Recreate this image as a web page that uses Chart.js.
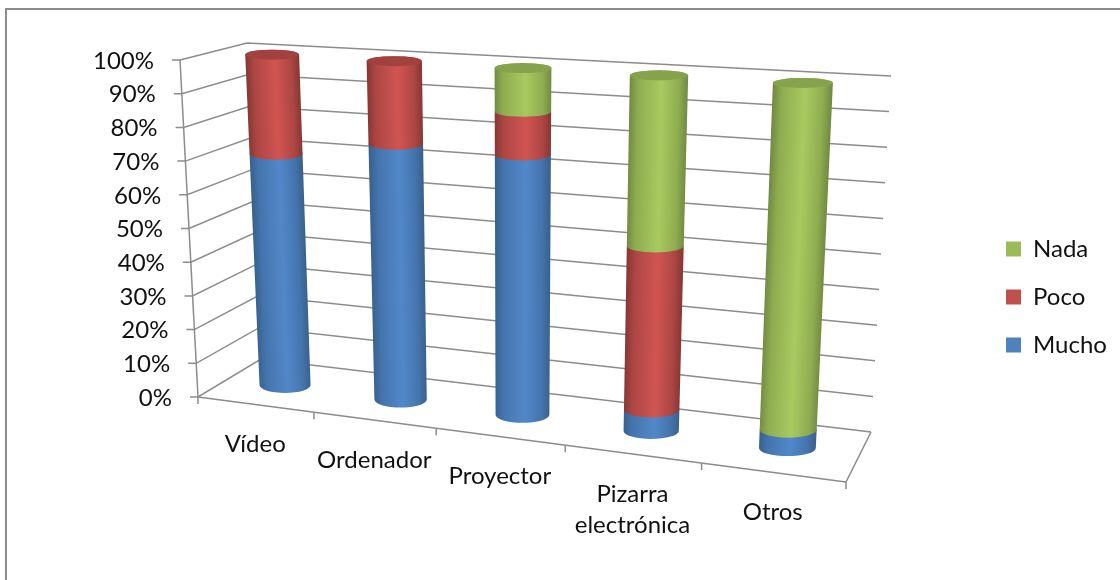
<!DOCTYPE html>
<html>
<head>
<meta charset="utf-8">
<style>
  html, body { margin: 0; padding: 0; background: #fff; }
  canvas { display: block; }
</style>
<script src="https://cdn.jsdelivr.net/npm/chart.js@4"></script>
</head>
<body>
<canvas id="chart" width="1120" height="580"></canvas>
<script>
const categories = ["Vídeo", "Ordenador", "Proyector", ["Pizarra", "electrónica"], "Otros"];
const mucho = [70, 75.5, 75, 6, 5];
const poco = [30, 24.5, 12.5, 46, 0];
const nada = [0, 0, 12.5, 48, 95];

const FONT = { family: "Lato, Carlito, sans-serif", size: 24 };
const GRID = "#8c8c8c";

// corners of the 3D box, in page pixels
const box = {
  frontBottomL: [198, 397], frontBottomR: [846, 482],
  backBottomL: [261, 359], backBottomR: [871, 432],
  frontTopL: [180, 60], frontTopR: [865, 98],
  backTopL: [247, 43], backTopR: [891, 76]
};

const shades = {
  Mucho: { edge: "#38618c", mid: "#4474ad", light: "#5288c9", cap: "#3f6a9c" },
  Poco: { edge: "#863735", mid: "#ad4643", light: "#d05552", cap: "#a2413f" },
  Nada: { edge: "#728b43", mid: "#8fac50", light: "#a8ca60", cap: "#87a24c" }
};

function lerp(a, b, f) { return a + (b - a) * f; }
function lerp2(a, b, f) { return [lerp(a[0], b[0], f), lerp(a[1], b[1], f)]; }
function warp(t, k) { return t / (t + k * (1 - t)); }

// t across categories, d depth (0 front, 1 back), v height, all 0..1
function project(t, d, v) {
  const f = warp(t, 1.147);
  const bottom = lerp2(lerp2(box.frontBottomL, box.frontBottomR, f), lerp2(box.backBottomL, box.backBottomR, f), d);
  const top = lerp2(lerp2(box.frontTopL, box.frontTopR, f), lerp2(box.backTopL, box.backTopR, f), d);
  const p = lerp2(bottom, top, v);
  return { x: p[0], y: p[1] };
}

function line(ctx, a, b) {
  ctx.beginPath();
  ctx.moveTo(a.x, a.y);
  ctx.lineTo(b.x, b.y);
  ctx.stroke();
}

function drawWalls(chart) {
  const ctx = chart.ctx;
  const y = chart.scales.y;
  const area = chart.chartArea;
  ctx.save();
  ctx.strokeStyle = GRID;
  ctx.lineWidth = 1.5;

  // gridlines from the y scale
  y.ticks.forEach((tick) => {
    const v = (area.bottom - y.getPixelForValue(tick.value)) / area.height;
    const a = project(0, 0, v);
    const b = project(0, 1, v);
    const c = project(1, 1, v);
    ctx.beginPath();
    ctx.moveTo(a.x - 8, a.y);
    ctx.lineTo(a.x, a.y);
    ctx.lineTo(b.x, b.y);
    ctx.lineTo(c.x, c.y);
    ctx.stroke();
  });

  line(ctx, project(0, 0, 0), project(0, 0, 1));

  // floor edges and category ticks
  line(ctx, project(0, 0, 0), project(1, 0, 0));
  line(ctx, project(1, 0, 0), project(1, 1, 0));
  for (let i = 0; i <= categories.length; i++) {
    const p = project(i / categories.length, 0, 0);
    line(ctx, p, { x: p.x, y: p.y + 7 });
  }
  ctx.restore();
}

function drawCylinders(chart) {
  const ctx = chart.ctx;
  const area = chart.chartArea;
  const toT = (px) => (px - area.left) / area.width;
  const toV = (px) => (area.bottom - px) / area.height;

  categories.forEach((cat, j) => {
    let last = -1;
    chart.data.datasets.forEach((ds, i) => { if (ds.data[j] > 0) last = i; });

    chart.data.datasets.forEach((ds, i) => {
      if (!(ds.data[j] > 0)) return;
      const bar = chart.getDatasetMeta(i).data[j];
      const shade = shades[ds.label];
      const t = toT(bar.x);
      const v0 = toV(bar.base);
      const v1 = toV(bar.y);
      const p0 = project(t, 0.5, v0);
      const p1 = project(t, 0.5, v1);
      const f = warp(toT(bar.x + bar.width / 2), 1.07) - warp(toT(bar.x - bar.width / 2), 1.07);
      const w0 = f * (project(1, 0.5, v0).x - project(0, 0.5, v0).x) / 2;
      const w1 = f * (project(1, 0.5, v1).x - project(0, 0.5, v1).x) / 2;
      const ry0 = lerp(8, 5, v0);
      const ry1 = lerp(8, 5, v1);

      ctx.save();
      ctx.beginPath();
      ctx.moveTo(p0.x - w0, p0.y);
      ctx.ellipse(p0.x, p0.y, w0, ry0, 0, Math.PI, 0, true);
      ctx.lineTo(p1.x + w1, p1.y);
      ctx.ellipse(p1.x, p1.y, w1, ry1, 0, 0, Math.PI, true);
      ctx.closePath();

      // shear so the shading follows the tilted cylinder axis
      const s = (p1.x - p0.x) / (p1.y - p0.y);
      ctx.transform(1, 0, s, 1, -s * p0.y, 0);
      const w = (w0 + w1) / 2;
      const g = ctx.createLinearGradient(p0.x - w, 0, p0.x + w, 0);
      g.addColorStop(0, shade.edge);
      g.addColorStop(0.15, shade.mid);
      g.addColorStop(0.55, shade.light);
      g.addColorStop(0.85, shade.mid);
      g.addColorStop(1, shade.edge);
      ctx.fillStyle = g;
      ctx.fill();
      ctx.restore();

      if (i === last) {
        ctx.beginPath();
        ctx.ellipse(p1.x, p1.y, w1, ry1, 0, 0, Math.PI * 2);
        ctx.fillStyle = shade.cap;
        ctx.fill();
      }
    });
  });
}

function drawLabels(chart) {
  const ctx = chart.ctx;
  const area = chart.chartArea;
  const y = chart.scales.y;
  const x = chart.scales.x;
  ctx.save();
  ctx.fillStyle = "#111";
  ctx.font = FONT.size + "px " + FONT.family;

  ctx.textAlign = "right";
  ctx.textBaseline = "middle";
  y.ticks.forEach((tick) => {
    const v = (area.bottom - y.getPixelForValue(tick.value)) / area.height;
    const p = project(0, 0, v);
    ctx.fillText(tick.label, p.x - 26, p.y + 1);
  });

  ctx.textAlign = "center";
  categories.forEach((cat, i) => {
    const p = project((x.getPixelForTick(i) - area.left) / area.width, 0, 0);
    const lines = Array.isArray(cat) ? cat : [cat];
    lines.forEach((text, n) => ctx.fillText(text, p.x, p.y + 40 + n * 31));
  });
  ctx.restore();
}

const box3d = {
  id: "box3d",
  beforeDraw(chart) {
    const ctx = chart.ctx;
    ctx.save();
    ctx.fillStyle = "#fff";
    ctx.fillRect(0, 0, chart.width, chart.height);
    // only the top and left of the outer frame show
    ctx.strokeStyle = GRID;
    ctx.lineWidth = 2;
    ctx.beginPath();
    ctx.moveTo(6, chart.height);
    ctx.lineTo(6, 9);
    ctx.lineTo(chart.width, 9);
    ctx.stroke();
    ctx.restore();
  },
  afterLayout(chart) {
    // legend sits lower than the middle of the plot
    const legend = chart.legend;
    const pad = legend.options.labels.padding;
    legend.left = 1006 - pad;
    legend.right = 1120;
    legend.top = 60;
    legend.bottom = 534;
  },
  beforeDatasetsDraw(chart) {
    drawWalls(chart);
    drawCylinders(chart);
    drawLabels(chart);
    return false;
  }
};

new Chart(document.getElementById("chart"), {
  type: "bar",
  data: {
    labels: categories,
    datasets: [
      { label: "Mucho", data: mucho, backgroundColor: "#4F81BD" },
      { label: "Poco", data: poco, backgroundColor: "#C0504D" },
      { label: "Nada", data: nada, backgroundColor: "#9BBB59" }
    ]
  },
  options: {
    responsive: false,
    animation: false,
    barPercentage: 0.428,
    categoryPercentage: 1,
    layout: { padding: { top: 60, bottom: 183, left: 160, right: 20 } },
    scales: {
      x: { stacked: true, display: false },
      y: {
        stacked: true,
        display: false,
        min: 0,
        max: 100,
        ticks: { stepSize: 10, callback: (v) => v + "%" }
      }
    },
    plugins: {
      tooltip: { enabled: false },
      legend: {
        position: "right",
        reverse: true,
        labels: { boxWidth: 15, boxHeight: 15, padding: 24, color: "#111", font: FONT }
      }
    }
  },
  plugins: [box3d]
});
</script>
</body>
</html>
